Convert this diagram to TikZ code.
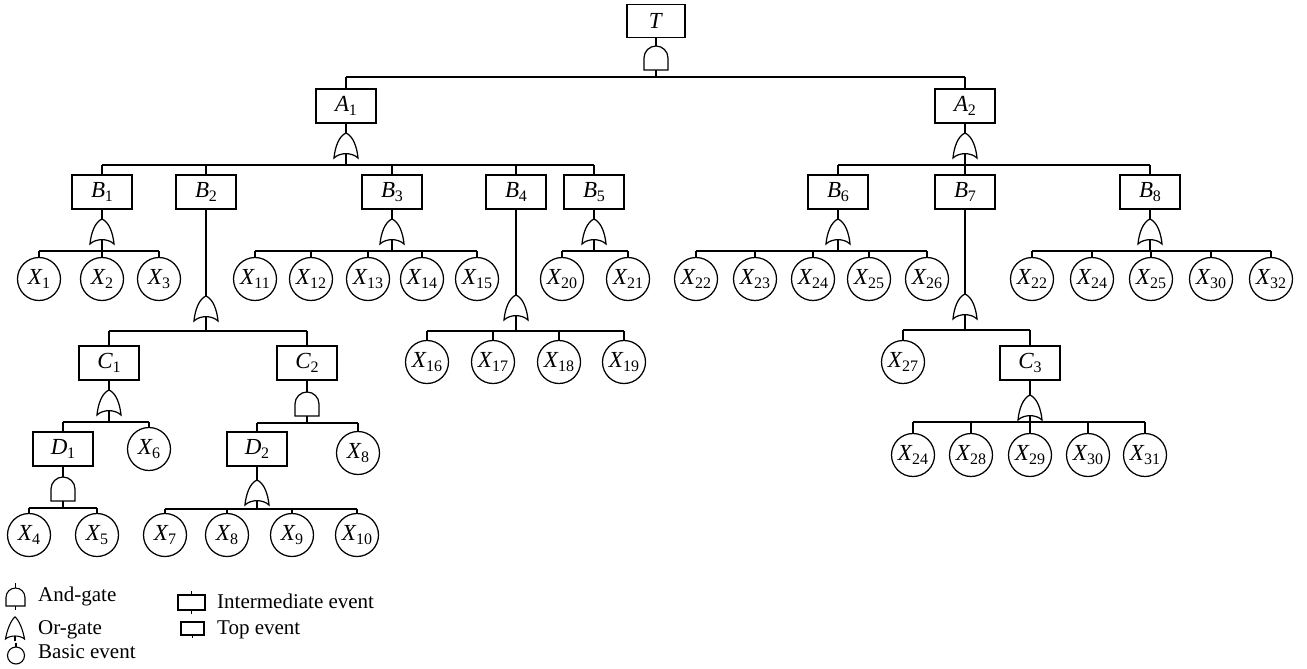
\documentclass[tikz,border=0pt]{standalone}
\usepackage{fontspec}
\setmainfont{Liberation Serif}
\newcommand\lbl{\fontsize{23}{23}\selectfont}
\newcommand\lgd{\fontsize{21}{21}\selectfont}
\newcommand\ev[2]{\textit{#1}\kern-0.5pt\raisebox{-4.5pt}{\fontsize{16}{16}\selectfont #2}}
\tikzset{
  ln/.style={line width=1.25pt},
  evbox/.style={draw, ln, minimum width=60pt, minimum height=34pt, inner sep=0pt, font=\lbl},
  basic/.style={draw, ln, circle, minimum size=43pt, inner sep=0pt, font=\lbl},
  orn/.style={minimum width=24pt, minimum height=20.6pt, inner sep=0pt, anchor=north},
  andn/.style={minimum width=24pt, minimum height=24pt, inner sep=0pt, anchor=north},
  lgdtext/.style={anchor=base west, inner sep=0pt, font=\lgd},
}
\newcommand\orgate[1]{\draw[ln, shift={(#1.north)}] (-12,25) .. controls (-11,14) and (-7,3) .. (0,0) .. controls (7,3) and (11,14) .. (12,25) .. controls (6,19.2) and (-6,19.2) .. cycle;}
\newcommand\andgate[1]{\draw[ln, shift={(#1.north)}] (-12,24) -- (-12,12) .. controls (-12,5.37) and (-6.63,0) .. (0,0) .. controls (6.63,0) and (12,5.37) .. (12,12) -- (12,24) -- cycle;}
% #1 gate, #2 bar y, #3 first child, #4 last child, #5 all children
\newcommand\fan[5]{%
  \coordinate (yb-#1) at (0,#2);
  \coordinate (bar-#1) at (#1.south |- yb-#1);
  \draw[ln] (#1.south) -- (bar-#1);
  \draw[ln] (#3.north |- yb-#1) -- (#4.north |- yb-#1);
  \foreach \c in {#5} { \draw[ln] (\c.north) -- (\c.north |- yb-#1); }
}
\begin{document}
\begin{tikzpicture}[x=1pt,y=-1pt]
\useasboundingbox (0,0) rectangle (1307,669);
\fill[white] (0,0) rectangle (1307,669);

% top
\node[evbox, minimum width=58pt, minimum height=33pt] (T) at (656,21) {\textit{T}};
\node[andn] (gT) at (656,46) {};
\andgate{gT}
\draw[ln] (T.south) -- (gT.north);

% A level
\node[evbox] (A1) at (346,106) {\ev{A}{1}};
\node[evbox] (A2) at (965,106) {\ev{A}{2}};
\fan{gT}{77}{A1}{A2}{A1,A2}
\node[orn] (gA1) at (346,133) {}; \orgate{gA1}
\node[orn] (gA2) at (965,133) {}; \orgate{gA2}
\draw[ln] (A1.south) -- (gA1.north);
\draw[ln] (A2.south) -- (gA2.north);

% B level
\node[evbox] (B1) at (102,192) {\ev{B}{1}};
\node[evbox] (B2) at (206,192) {\ev{B}{2}};
\node[evbox] (B3) at (392,192) {\ev{B}{3}};
\node[evbox] (B4) at (516,192) {\ev{B}{4}};
\node[evbox] (B5) at (594,192) {\ev{B}{5}};
\node[evbox] (B6) at (838,192) {\ev{B}{6}};
\node[evbox] (B7) at (965,192) {\ev{B}{7}};
\node[evbox] (B8) at (1150,192) {\ev{B}{8}};
\fan{gA1}{165}{B1}{B5}{B1,B2,B3,B4,B5}
\fan{gA2}{165}{B6}{B8}{B6,B7,B8}

% gates under B
\node[orn] (gB1) at (102,219) {}; \orgate{gB1}
\node[orn] (gB3) at (392,219) {}; \orgate{gB3}
\node[orn] (gB5) at (594,219) {}; \orgate{gB5}
\node[orn] (gB6) at (838,219) {}; \orgate{gB6}
\node[orn] (gB8) at (1150,219) {}; \orgate{gB8}
\node[orn] (gB2) at (206,296) {}; \orgate{gB2}
\node[orn] (gB4) at (516,295) {}; \orgate{gB4}
\node[orn] (gB7) at (965,294) {}; \orgate{gB7}
\foreach \g in {B1,B2,B3,B4,B5,B6,B7,B8} { \draw[ln] (\g.south) -- (g\g.north); }

% basic events row 1
\node[basic] (x1) at (39,279) {\ev{X}{1}};
\node[basic] (x2) at (102,279) {\ev{X}{2}};
\node[basic] (x3) at (159,279) {\ev{X}{3}};
\node[basic] (x11) at (255,279) {\ev{X}{11}};
\node[basic] (x12) at (311,279) {\ev{X}{12}};
\node[basic] (x13) at (368,279) {\ev{X}{13}};
\node[basic] (x14) at (422,279) {\ev{X}{14}};
\node[basic] (x15) at (477,279) {\ev{X}{15}};
\node[basic] (x20) at (562,279) {\ev{X}{20}};
\node[basic] (x21) at (628,279) {\ev{X}{21}};
\node[basic] (x22a) at (696,279) {\ev{X}{22}};
\node[basic] (x23) at (755,279) {\ev{X}{23}};
\node[basic] (x24a) at (813,279) {\ev{X}{24}};
\node[basic] (x25a) at (869,279) {\ev{X}{25}};
\node[basic] (x26) at (927,279) {\ev{X}{26}};
\node[basic] (x22b) at (1032,279) {\ev{X}{22}};
\node[basic] (x24b) at (1092,279) {\ev{X}{24}};
\node[basic] (x25b) at (1151,279) {\ev{X}{25}};
\node[basic] (x30a) at (1211,279) {\ev{X}{30}};
\node[basic] (x32) at (1271,279) {\ev{X}{32}};
\fan{gB1}{251}{x1}{x3}{x1,x2,x3}
\fan{gB3}{251}{x11}{x15}{x11,x12,x13,x14,x15}
\fan{gB5}{251}{x20}{x21}{x20,x21}
\fan{gB6}{251}{x22a}{x26}{x22a,x23,x24a,x25a,x26}
\fan{gB8}{251}{x22b}{x32}{x22b,x24b,x25b,x30a,x32}

% B2 subtree
\node[evbox] (C1) at (109,363) {\ev{C}{1}};
\node[evbox] (C2) at (307,363) {\ev{C}{2}};
\fan{gB2}{331}{C1}{C2}{C1,C2}
\node[orn] (gC1) at (109,390) {}; \orgate{gC1}
\node[andn] (gC2) at (307,392) {}; \andgate{gC2}
\draw[ln] (C1.south) -- (gC1.north);
\draw[ln] (C2.south) -- (gC2.north);
\node[evbox] (D1) at (63,449) {\ev{D}{1}};
\node[basic] (x6) at (149,449) {\ev{X}{6}};
\fan{gC1}{422}{D1}{x6}{D1,x6}
\node[evbox] (D2) at (257,449) {\ev{D}{2}};
\node[basic] (x8a) at (358,453) {\ev{X}{8}};
\fan{gC2}{423}{D2}{x8a}{D2,x8a}
\node[andn] (gD1) at (63,477) {}; \andgate{gD1}
\node[orn] (gD2) at (257,480) {}; \orgate{gD2}
\draw[ln] (D1.south) -- (gD1.north);
\draw[ln] (D2.south) -- (gD2.north);
\node[basic] (x4) at (29,535) {\ev{X}{4}};
\node[basic] (x5) at (97,535) {\ev{X}{5}};
\fan{gD1}{508}{x4}{x5}{x4,x5}
\node[basic] (x7) at (165,535) {\ev{X}{7}};
\node[basic] (x8b) at (227,535) {\ev{X}{8}};
\node[basic] (x9) at (292,535) {\ev{X}{9}};
\node[basic] (x10) at (357,535) {\ev{X}{10}};
\fan{gD2}{509}{x7}{x10}{x7,x8b,x9,x10}

% B4 subtree
\node[basic] (x16) at (427,362) {\ev{X}{16}};
\node[basic] (x17) at (493,362) {\ev{X}{17}};
\node[basic] (x18) at (559,362) {\ev{X}{18}};
\node[basic] (x19) at (624,362) {\ev{X}{19}};
\fan{gB4}{331}{x16}{x19}{x16,x17,x18,x19}

% B7 subtree
\node[basic] (x27) at (903,362) {\ev{X}{27}};
\node[evbox] (C3) at (1030,363) {\ev{C}{3}};
\fan{gB7}{330}{x27}{C3}{x27,C3}
\node[orn] (gC3) at (1030,395) {}; \orgate{gC3}
\draw[ln] (C3.south) -- (gC3.north);
\node[basic] (x24c) at (913,455) {\ev{X}{24}};
\node[basic] (x28) at (971,455) {\ev{X}{28}};
\node[basic] (x29) at (1030,455) {\ev{X}{29}};
\node[basic] (x30b) at (1088,455) {\ev{X}{30}};
\node[basic] (x31) at (1145,455) {\ev{X}{31}};
\fan{gC3}{422}{x24c}{x31}{x24c,x28,x29,x30b,x31}

% legend
\draw[line width=1.1pt] (15.5,583) -- (15.5,588);
\draw[line width=1.1pt] (6,606) -- (6,597.5) .. controls (6,592.3) and (10.3,588) .. (15.5,588) .. controls (20.7,588) and (25,592.3) .. (25,597.5) -- (25,606) -- cycle;
\draw[line width=1.1pt] (15.5,606) -- (15.5,610);
\draw[line width=1.1pt] (5.5,639) .. controls (7,630) and (11,620) .. (15,617) .. controls (19,620) and (23,630) .. (24.5,639) .. controls (20,635) and (10,635) .. cycle;
\draw[line width=1.1pt] (15,636) -- (15,641);
\draw[line width=1.1pt] (16,655.5) circle[radius=8.5pt];
\draw[line width=1.1pt] (16,643) -- (16,647);
\draw[line width=1.1pt] (178,595) rectangle (205,610);
\draw[line width=1.1pt] (191.5,591) -- (191.5,595) (191.5,610) -- (191.5,614);
\draw[line width=1.1pt] (181,622) rectangle (204,635);
\draw[line width=1.1pt] (192.5,635) -- (192.5,638);
\node[lgdtext] (lAnd) at (38,601) {And-gate};
\node[lgdtext] (lOr) at (38,634) {Or-gate};
\node[lgdtext] (lBasic) at (38,658) {Basic event};
\node[lgdtext] (lInt) at (217,608) {Intermediate event};
\node[lgdtext] (lTop) at (217,634) {Top event};
\end{tikzpicture}
\end{document}
